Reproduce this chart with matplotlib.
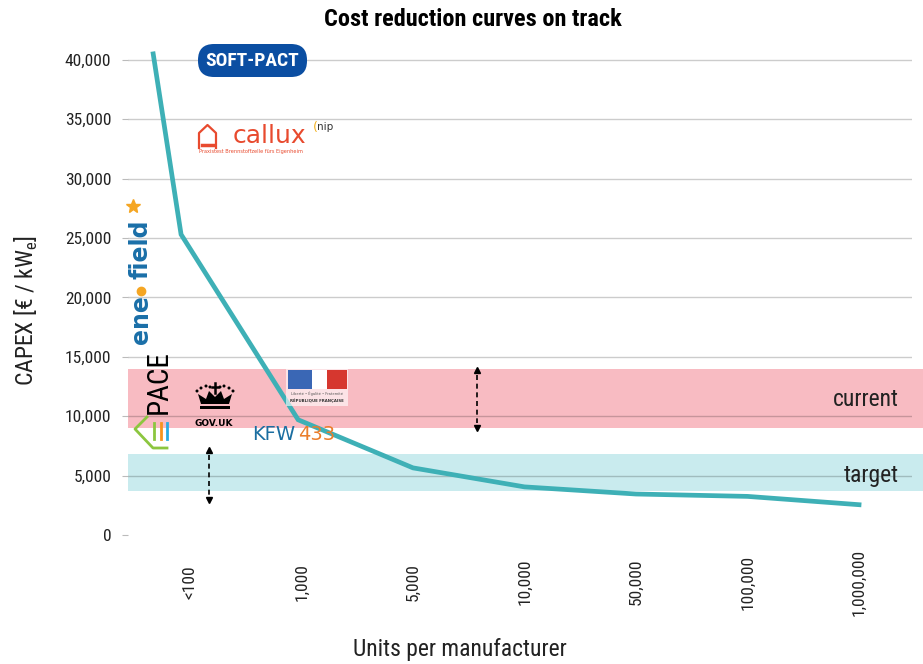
import matplotlib
matplotlib.use("Agg")
import matplotlib.pyplot as plt
from matplotlib.patches import FancyBboxPatch, Rectangle, Polygon, Circle
from matplotlib import font_manager
import numpy as np

_avail = {f.name for f in font_manager.fontManager.ttflist}
_cands = ['Roboto Condensed', 'Liberation Sans Narrow', 'DejaVu Sans Condensed', 'Roboto', 'DejaVu Sans']
FAM = [c for c in _cands if c in _avail][0]
plt.rcParams['font.family'] = [FAM, 'DejaVu Sans']

# ---------------- data ----------------
categories = ["<100", "1,000", "5,000", "10,000", "50,000", "100,000", "1,000,000"]
unit_pos = [-0.33, -0.08, 0.97, 2, 3, 4, 5, 6]          # category index positions of points
capex = [40500, 25300, 9700, 5650, 4050, 3450, 3250, 2550]
yticks = [0, 5000, 10000, 15000, 20000, 25000, 30000, 35000, 40000]
current_band = (9000, 14000)
target_band = (3700, 6800)
current_label_y = 11400
target_label_y = 5050
arrow_current = (2.57, 13900, 9000)
arrow_target = (0.17, 7150, 2950)

W, H = 923, 664
fig = plt.figure(figsize=(W / 100, H / 100), dpi=100)

ax_l, ax_r, ax_b, ax_t = 128, 912, 535, 42
ax = fig.add_axes([ax_l / W, 1 - ax_b / H, (ax_r - ax_l) / W, (ax_b - ax_t) / H])
ax.set_xlim(-0.556, 6.475)
ax.set_ylim(0, 41500)

ext = (W - ax_l) / (ax_r - ax_l)
ax.axhspan(*current_band, xmin=0, xmax=ext, color='#f8bbc2', zorder=0.2, lw=0, clip_on=False)
ax.axhspan(*target_band, xmin=0, xmax=ext, color='#c9ebee', zorder=0.2, lw=0, clip_on=False)

ax.plot(unit_pos, capex, color='#3eb0b6', lw=3.4, zorder=3, solid_joinstyle='miter')

ax.set_yticks(yticks)
ax.set_yticklabels([f"{v:,}" for v in yticks], fontsize=12.5, color='#222222')
ax.set_xticks(range(len(categories)))
ax.set_xticklabels(categories, rotation=90, fontsize=12.5, va='center', color='#222222')
ax.tick_params(axis='y', length=4, color='#bbbbbb', pad=8)
ax.tick_params(axis='x', length=0, pad=34)
for s in ax.spines.values():
    s.set_visible(False)
ax.set_axisbelow(True)
ax.grid(axis='y', color='#000000', alpha=0.2, lw=1)
ax.yaxis.get_gridlines()[0].set_visible(False)

ax.text(6.36, current_label_y, "current", ha='right', va='center', fontsize=17, color='#222222')
ax.text(6.36, target_label_y, "target", ha='right', va='center', fontsize=17, color='#222222')

for (xa, y_top, y_bot) in (arrow_current, arrow_target):
    ax.plot([xa, xa], [y_top - 400, y_bot + 400], ls=(0, (3, 2.2)), color='black', lw=1.2, zorder=4)
    ax.plot([xa], [y_top], marker='^', color='black', ms=5, zorder=4)
    ax.plot([xa], [y_bot], marker='v', color='black', ms=5, zorder=4)

ax.set_xlabel("Units per manufacturer", fontsize=17, color='#222222')
ax.xaxis.set_label_coords((460 - ax_l) / (ax_r - ax_l), (ax_b - 638) / (ax_b - ax_t))
ax.set_ylabel("CAPEX [€ / kW$_\\mathregular{e}$]", fontsize=17, color='#222222')
ax.yaxis.set_label_coords((40 - ax_l) / (ax_r - ax_l), (ax_b - 310) / (ax_b - ax_t))
fig.text(473 / W, 1 - 19 / H, "Cost reduction curves on track", ha='center', va='center',
         fontsize=17.5, fontweight='bold')

# ---------------- logos overlay (pixel coordinates) ----------------
ov = fig.add_axes([0, 0, 1, 1], zorder=5)
ov.set_xlim(0, W)
ov.set_ylim(H, 0)
ov.axis('off')
ov.patch.set_visible(False)

# SOFT-PACT
ov.add_patch(FancyBboxPatch((198, 44), 109, 33, boxstyle="round,pad=0,rounding_size=16",
                            fc='#0b4ea2', ec='none'))
ov.text(252.5, 61, "SOFT-PACT", color='white', fontsize=14, fontweight='bold', ha='center', va='center')

# callux
red = '#e84a2e'
ov.plot([199, 199, 207.5, 216, 216], [148, 133, 125, 133, 148], color=red, lw=1.6)
ov.plot([202, 213], [145, 145], color=red, lw=2.5)
ov.text(269, 136, "callux", color=red, fontsize=18, ha='center', va='center', family='DejaVu Sans')
ov.text(199, 152, "Praxistest Brennstoffzelle fürs Eigenheim", color=red, fontsize=3.6,
        ha='left', va='center', family='DejaVu Sans')
ov.text(313, 128, "(", color='#f2b01e', fontsize=9, ha='left', va='center', family='DejaVu Sans')
ov.text(317, 127, "nip", color='#333333', fontsize=7.5, ha='left', va='center', family='DejaVu Sans')

# ene.field
blue = '#1a6fa8'
ov.text(141, 320, "ene", color=blue, fontsize=17, fontweight='bold', rotation=90,
        ha='center', va='center', family='DejaVu Sans')
ov.plot([141], [291], marker='o', color='#f5a623', ms=6)
ov.text(141, 249, "field", color=blue, fontsize=17, fontweight='bold', rotation=90,
        ha='center', va='center', family='DejaVu Sans')
ov.plot([133], [206], marker='*', color='#f5a623', ms=10)

# PACE
ov.text(159, 382, "PACE", color='black', fontsize=21, rotation=90, ha='center', va='center')
green = '#8cc63f'
ov.plot([147, 135, 153, 167], [417, 429, 448, 448], color=green, lw=2)
for xb, cb in zip([154, 161, 167], [green, '#f7941d', '#29abe2']):
    ov.plot([xb, xb], [423, 439], color=cb, lw=2)

# GOV.UK crown
ov.add_patch(Polygon([(201, 404), (198, 394), (206, 399), (209, 391), (215, 397), (221, 391),
                      (224, 399), (232, 394), (229, 404)], closed=True, fc='black', ec='none'))
ov.add_patch(Rectangle((200, 405.5), 30, 3.5, fc='black', ec='none'))
for cx, cy in [(197, 391), (201, 388), (206, 386), (210, 387), (220, 387), (224, 386), (229, 388), (233, 391)]:
    ov.add_patch(Circle((cx, cy), 1.5, fc='black', ec='none'))
ov.plot([215, 215], [383, 393], color='black', lw=1.8)
ov.plot([212, 218], [386.5, 386.5], color='black', lw=1.8)
ov.text(214, 423, "GOV.UK", color='black', fontsize=6.5, fontweight='bold', ha='center', va='center',
        family='DejaVu Sans')

# Republique Francaise
ov.add_patch(Rectangle((286, 368), 62, 38, fc='white', ec='none', alpha=0.6))
ov.add_patch(Rectangle((288, 370), 24, 19, fc='#3a67b5', ec='none'))
ov.add_patch(Rectangle((312, 370), 15, 19, fc='white', ec='none'))
ov.add_patch(Rectangle((327, 370), 20, 19, fc='#d6372f', ec='none'))
ov.text(317, 394, "Liberté • Égalité • Fraternité", fontsize=2.6, ha='center', va='center',
        color='#555555', family='DejaVu Sans')
ov.text(317, 401, "RÉPUBLIQUE FRANÇAISE", fontsize=2.8, ha='center', va='center',
        color='#333333', fontweight='bold', family='DejaVu Sans')

# KFW 433
ov.text(252, 434, "KFW", color='#1b6ea1', fontsize=14, ha='left', va='center', family='DejaVu Sans')
ov.text(298, 434, "433", color='#ea7d2a', fontsize=14, ha='left', va='center', family='DejaVu Sans')

fig.savefig("out.png", dpi=100)
